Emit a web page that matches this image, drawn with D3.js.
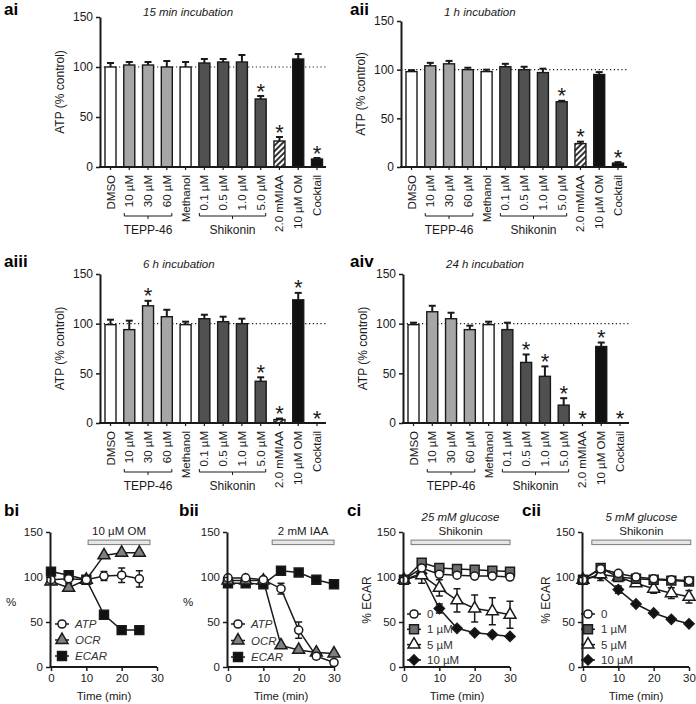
<!DOCTYPE html>
<html>
<head>
<meta charset="utf-8">
<script src="https://cdn.jsdelivr.net/npm/d3@7"></script>
<style>
  body { margin: 0; background: #fff; }
  svg { font-family: "Liberation Sans", Arial, Helvetica, sans-serif; }
</style>
</head>
<body>
<svg id="fig" width="696" height="704"></svg>
<script>
// ---- bar chart data (ATP, % control) ----
const categories = ['DMSO', '10 µM', '30 µM', '60 µM', 'Methanol', '0.1 µM', '0.5 µM', '1.0 µM', '5.0 µM', '2.0 mMIAA', '10 µM OM', 'Cocktail'];
const catGroup = ['vehicle', 'tepp', 'tepp', 'tepp', 'vehicle', 'shik', 'shik', 'shik', 'shik', 'iaa', 'om', 'om'];
const yTicks = [0, 50, 100, 150];

const atp15min = [100, 102, 102, 100, 100, 104, 105, 105, 68, 26, 108, 8];
const err15min = [4, 3, 3, 6, 5, 4, 3, 7, 3, 4, 5, 1];
const sig15min = [0, 0, 0, 0, 0, 0, 0, 0, 1, 1, 0, 1];

const atp1h = [98, 104, 106, 100, 98, 103, 100, 97, 67, 24, 95, 4];
const err1h = [1.5, 3, 3, 2, 2, 3, 3, 4, 1, 2, 2.5, 1];
const sig1h = [0, 0, 0, 0, 0, 0, 0, 0, 1, 1, 0, 1];

const atp6h = [99, 94, 118, 107, 99, 105, 102, 100, 42, 3.5, 124, 0];
const err6h = [5, 9, 5, 7, 3, 4, 5, 5, 4, 1, 7, 0];
const sig6h = [0, 0, 1, 0, 0, 0, 0, 0, 1, 1, 1, 1];

const atp24h = [99, 112, 105, 94, 99, 94, 61, 47, 18, 0, 77, 0];
const err24h = [2, 6, 6, 4, 3, 7, 8, 10, 7, 0, 4, 0];
const sig24h = [0, 0, 0, 0, 0, 0, 1, 1, 1, 1, 1, 1];

// ---- time course data ----
const timeB1 = [0, 5, 10, 15, 20, 25];
const b1ATP = [97, 98, 97, 101, 102, 98];
const b1ATPErr = [4, 5, 2, 5, 8, 9];
const b1OCR = [95, 88, 97, 124, 127, 127];
const b1OCRErr = [2, 3, 1, 2, 2, 2];
const b1ECAR = [106, 102, 97, 58, 41, 41];
const b1ECARErr = [1, 1, 1, 2, 2, 2];

const timeB2 = [0, 5, 10, 15, 20, 25, 30];
const b2ATP = [99, 99, 97, 87, 41, 12, 5];
const b2ATPErr = [2, 2, 2, 6, 9, 3, 2];
const b2OCR = [96, 96, 96, 24, 19, 16, 15];
const b2OCRErr = [1, 1, 1, 2, 2, 2, 2];
const b2ECAR = [93, 93, 92, 107, 105, 97, 92];
const b2ECARErr = [1, 1, 1, 1, 1, 1, 1];

const timeC = [0, 5, 10, 15, 20, 25, 30];
const c1Shik0 = [97, 110, 103, 102, 101, 101, 100];
const c1Shik0Err = [1, 2, 3, 2, 2, 2, 2];
const c1Shik1 = [97, 116, 110, 109, 108, 107, 106];
const c1Shik1Err = [1, 2, 2, 2, 2, 2, 2];
const c1Shik5 = [97, 102, 88, 74, 65, 62, 58];
const c1Shik5Err = [1, 9, 9, 13, 15, 15, 15];
const c1Shik10 = [97, 104, 65, 43, 38, 36, 34];
const c1Shik10Err = [1, 4, 5, 2, 2, 2, 2];

const c2Shik0 = [97, 109, 104, 100, 98, 97, 96];
const c2Shik0Err = [1, 2, 2, 2, 2, 2, 2];
const c2Shik1 = [97, 110, 100, 98, 97, 96, 95];
const c2Shik1Err = [1, 2, 2, 2, 2, 2, 2];
const c2Shik5 = [97, 103, 100, 93, 87, 82, 78];
const c2Shik5Err = [1, 7, 2, 3, 5, 6, 7];
const c2Shik10 = [97, 102, 86, 70, 60, 53, 48];
const c2Shik10Err = [1, 3, 4, 2, 2, 2, 2];

const xTicks = [0, 10, 20, 30];
// treatment bars [start, end] in minutes
const omSpan = [10.5, 28];
const iaaSpan = [12.5, 30];
const shik1Span = [2, 30];
const shik2Span = [2.5, 30.5];

// ---- drawing ----
const svg = d3.select('#fig');
const ink = '#1a1a1a';
const groupFill = { vehicle: '#ffffff', tepp: '#a6a6a6', shik: '#505050', iaa: 'url(#hatch)', om: '#111111' };

const hatch = svg.append('defs').append('pattern')
  .attr('id', 'hatch').attr('patternUnits', 'userSpaceOnUse')
  .attr('width', 4).attr('height', 4).attr('patternTransform', 'rotate(45)');
hatch.append('rect').attr('width', 4).attr('height', 4).attr('fill', '#fff');
hatch.append('rect').attr('width', 2).attr('height', 4).attr('fill', '#333');

function styleAxis(sel, fs) {
  sel.select('.domain').attr('stroke', ink).attr('stroke-width', 2);
  sel.selectAll('.tick line').attr('stroke', ink).attr('stroke-width', 1.5);
  sel.selectAll('.tick text').attr('fill', ink).attr('font-size', fs).attr('font-family', null);
}

function panelLabel(txt, x, y) {
  svg.append('text').attr('x', x).attr('y', y).attr('font-weight', 'bold')
    .attr('font-size', 17).attr('fill', '#000').text(txt);
}

function barPanel(p) {
  const g = svg.append('g');
  const y = d3.scaleLinear().domain([0, 150]).range([p.base, p.top]);
  const x = d3.scalePoint().domain(categories).range([p.ax + 10.5, p.ax + 217]);
  const bw = 11;
  const xEnd = p.ax + 226;

  // dotted 100% reference
  g.append('line').attr('x1', p.ax).attr('x2', xEnd + 2).attr('y1', y(100)).attr('y2', y(100))
    .attr('stroke', ink).attr('stroke-width', 1.2).attr('stroke-dasharray', '1.2,2.6');

  const rows = p.vals.map((v, i) => ({ c: categories[i], v, e: p.errs[i], s: p.sig[i], grp: catGroup[i] }));

  // error bars (upper only)
  const eb = g.selectAll('.eb').data(rows.filter(d => d.e > 0)).join('g');
  eb.append('line').attr('x1', d => x(d.c)).attr('x2', d => x(d.c))
    .attr('y1', d => y(d.v)).attr('y2', d => y(d.v + d.e)).attr('stroke', ink).attr('stroke-width', 2);
  eb.append('line').attr('x1', d => x(d.c) - 3.5).attr('x2', d => x(d.c) + 3.5)
    .attr('y1', d => y(d.v + d.e)).attr('y2', d => y(d.v + d.e)).attr('stroke', ink).attr('stroke-width', 2);

  g.selectAll('.bar').data(rows.filter(d => d.v > 0)).join('rect')
    .attr('x', d => x(d.c) - bw / 2).attr('y', d => y(d.v))
    .attr('width', bw).attr('height', d => y(0) - y(d.v))
    .attr('fill', d => groupFill[d.grp]).attr('stroke', ink).attr('stroke-width', 1.4);

  // significance stars
  g.selectAll('.star').data(rows.filter(d => d.s)).join('text')
    .attr('x', d => x(d.c)).attr('y', d => y(d.v + d.e) + 2.5)
    .attr('text-anchor', 'middle').attr('font-size', 22).attr('fill', ink).text('*');

  // axes
  const ya = g.append('g').attr('transform', `translate(${p.ax},0)`)
    .call(d3.axisLeft(y).tickValues(yTicks).tickSize(4).tickSizeOuter(0).tickPadding(3));
  styleAxis(ya, 12);

  g.append('line').attr('x1', p.ax - 1).attr('x2', xEnd).attr('y1', y(0)).attr('y2', y(0))
    .attr('stroke', ink).attr('stroke-width', 2);
  g.selectAll('.xt').data(categories).join('line')
    .attr('x1', d => x(d)).attr('x2', d => x(d)).attr('y1', y(0)).attr('y2', y(0) + 3)
    .attr('stroke', ink).attr('stroke-width', 1.2);
  g.selectAll('.xl').data(categories).join('text')
    .attr('transform', d => `translate(${x(d) + 4},${y(0) + 8}) rotate(-90)`)
    .attr('text-anchor', 'end').attr('font-size', 11.5).attr('fill', ink).text(d => d);

  // group brackets
  const groups = [['TEPP-46', 1, 3], ['Shikonin', 5, 8]];
  groups.forEach(([name, a, b]) => {
    const x1 = x(categories[a]) - 5, x2 = x(categories[b]) + 5, yb = y(0) + 49;
    g.append('path').attr('d', `M${x1},${yb - 3}V${yb}H${x2}V${yb - 3}M${(x1 + x2) / 2},${yb}v3`)
      .attr('fill', 'none').attr('stroke', ink).attr('stroke-width', 1);
    g.append('text').attr('x', (x1 + x2) / 2).attr('y', y(0) + 67).attr('text-anchor', 'middle')
      .attr('font-size', 12).attr('fill', ink).text(name);
  });

  g.append('text').attr('transform', `translate(${p.ax - 36},${(y(0) + y(150)) / 2}) rotate(-90)`)
    .attr('text-anchor', 'middle').attr('font-size', 12).attr('fill', ink).text('ATP (% control)');
  g.append('text').attr('x', p.ax + 43).attr('y', p.titleY).attr('font-size', 11.5)
    .attr('font-style', 'italic').attr('fill', ink).text(p.title);
}

barPanel({ ax: 100, base: 167, top: 17, vals: atp15min, errs: err15min, sig: sig15min, title: '15 min incubation', titleY: 16 });
barPanel({ ax: 401, base: 167, top: 21, vals: atp1h, errs: err1h, sig: sig1h, title: '1 h incubation', titleY: 16 });
barPanel({ ax: 100, base: 423, top: 274, vals: atp6h, errs: err6h, sig: sig6h, title: '6 h incubation', titleY: 268 });
barPanel({ ax: 403, base: 423, top: 274, vals: atp24h, errs: err24h, sig: sig24h, title: '24 h incubation', titleY: 268 });

panelLabel('ai', 4, 15);
panelLabel('aii', 350, 15);
panelLabel('aiii', 4, 267);
panelLabel('aiv', 350, 267);

// ---- line panels ----
function marker(sel, shape, fill) {
  const sizes = { circle: 52, square: 80, triangle: 62, diamond: 52 };
  const type = { circle: d3.symbolCircle, square: d3.symbolSquare, triangle: d3.symbolTriangle, diamond: d3.symbolSquare }[shape];
  sel.append('path').attr('d', d3.symbol().type(type).size(sizes[shape])())
    .attr('transform', shape === 'diamond' ? 'rotate(45)' : null)
    .attr('fill', fill).attr('stroke', ink).attr('stroke-width', 1.5);
}

function linePanel(p) {
  const g = svg.append('g');
  const x = d3.scaleLinear().domain([0, 30]).range([p.ax + 1, p.ax + 107]);
  const y = d3.scaleLinear().domain([0, 150]).range([667, 532]);

  // treatment bar
  g.append('rect').attr('x', x(p.span[0])).attr('y', y(141)).attr('width', x(p.span[1]) - x(p.span[0]))
    .attr('height', 4.5).attr('fill', '#e6e6e6').attr('stroke', '#7a7a7a').attr('stroke-width', 1);
  g.append('text').attr('x', (x(p.span[0]) + x(p.span[1])) / 2).attr('y', 535).attr('text-anchor', 'middle')
    .attr('font-size', 11.5).attr('fill', ink).text(p.spanLabel);
  if (p.title) {
    g.append('text').attr('x', (x(p.span[0]) + x(p.span[1])) / 2).attr('y', 521).attr('text-anchor', 'middle')
      .attr('font-size', 11.5).attr('font-style', 'italic').attr('fill', ink).text(p.title);
  }

  const line = d3.line().x(d => x(d[0])).y(d => y(d[1]));
  p.series.forEach(s => {
    const pts = p.time.map((t, i) => [t, s.vals[i], s.errs[i]]);
    g.append('path').attr('d', line(pts)).attr('fill', 'none').attr('stroke', ink).attr('stroke-width', 1.5);
  });
  p.series.forEach(s => {
    const pts = p.time.map((t, i) => [t, s.vals[i], s.errs[i]]);
    const eb = g.append('g');
    eb.selectAll('path').data(pts.filter(d => d[2] > 2)).join('path')
      .attr('d', d => `M${x(d[0])},${y(d[1] - d[2])}V${y(d[1] + d[2])}M${x(d[0]) - 3.5},${y(d[1] - d[2])}h7M${x(d[0]) - 3.5},${y(d[1] + d[2])}h7`)
      .attr('fill', 'none').attr('stroke', ink).attr('stroke-width', 1.5);
  });
  [...p.series].reverse().forEach(s => {
    const pts = p.time.map((t, i) => [t, s.vals[i]]);
    g.selectAll(null).data(pts).join('g')
      .attr('transform', d => `translate(${x(d[0])},${y(d[1])})`)
      .each(function () { marker(d3.select(this), s.shape, s.fill); });
  });

  // axes
  const ya = g.append('g').attr('transform', `translate(${p.ax},0)`)
    .call(d3.axisLeft(y).tickValues(yTicks).tickSize(4).tickSizeOuter(0).tickPadding(3));
  styleAxis(ya, 11.5);
  const xa = g.append('g').attr('transform', `translate(0,${y(0)})`)
    .call(d3.axisBottom(x).tickValues(xTicks).tickSize(4).tickSizeOuter(0).tickPadding(3));
  styleAxis(xa, 11.5);
  xa.select('.domain').attr('d', `M${p.ax},0H${x(30)}`);

  g.append('text').attr('x', (x(0) + x(30)) / 2).attr('y', 700).attr('text-anchor', 'middle')
    .attr('font-size', 11.5).attr('fill', ink).text('Time (min)');
  if (p.yLabel === '%') {
    g.append('text').attr('x', p.ax - 39).attr('y', 606).attr('text-anchor', 'middle')
      .attr('font-size', 11.5).attr('fill', ink).text('%');
  } else {
    g.append('text').attr('transform', `translate(${p.ax - 32},600) rotate(-90)`).attr('text-anchor', 'middle')
      .attr('font-size', 12).attr('fill', ink).text(p.yLabel);
  }

  // legend
  p.series.forEach((s, i) => {
    const ly = p.legY + i * p.legStep;
    const lg = g.append('g');
    lg.append('line').attr('x1', p.legX - 7).attr('x2', p.legX + 7).attr('y1', ly).attr('y2', ly)
      .attr('stroke', ink).attr('stroke-width', 1.5);
    marker(lg.append('g').attr('transform', `translate(${p.legX},${ly})`), s.shape, s.fill);
    lg.append('text').attr('x', p.legX + 13).attr('y', ly + 4).attr('font-size', 11.5)
      .attr('font-style', p.legItalic ? 'italic' : null).attr('fill', '#333').text(s.name);
  });
}

linePanel({
  ax: 50, time: timeB1, span: omSpan, spanLabel: '10 µM OM', yLabel: '%',
  legX: 62, legY: 624, legStep: 16, legItalic: true,
  series: [
    { name: 'ATP', vals: b1ATP, errs: b1ATPErr, shape: 'circle', fill: '#fff' },
    { name: 'OCR', vals: b1OCR, errs: b1OCRErr, shape: 'triangle', fill: '#808080' },
    { name: 'ECAR', vals: b1ECAR, errs: b1ECARErr, shape: 'square', fill: '#111' }
  ]
});
linePanel({
  ax: 227, time: timeB2, span: iaaSpan, spanLabel: '2 mM IAA', yLabel: '%',
  legX: 238, legY: 624, legStep: 16.5, legItalic: true,
  series: [
    { name: 'ATP', vals: b2ATP, errs: b2ATPErr, shape: 'circle', fill: '#fff' },
    { name: 'OCR', vals: b2OCR, errs: b2OCRErr, shape: 'triangle', fill: '#808080' },
    { name: 'ECAR', vals: b2ECAR, errs: b2ECARErr, shape: 'square', fill: '#111' }
  ]
});
linePanel({
  ax: 403, time: timeC, span: shik1Span, spanLabel: 'Shikonin', title: '25 mM glucose', yLabel: '% ECAR',
  legX: 414, legY: 614, legStep: 15.3, legItalic: false,
  series: [
    { name: '0', vals: c1Shik0, errs: c1Shik0Err, shape: 'circle', fill: '#fff' },
    { name: '1 µM', vals: c1Shik1, errs: c1Shik1Err, shape: 'square', fill: '#6e6e6e' },
    { name: '5 µM', vals: c1Shik5, errs: c1Shik5Err, shape: 'triangle', fill: '#fff' },
    { name: '10 µM', vals: c1Shik10, errs: c1Shik10Err, shape: 'diamond', fill: '#111' }
  ]
});
linePanel({
  ax: 582, time: timeC, span: shik2Span, spanLabel: 'Shikonin', title: '5 mM glucose', yLabel: '% ECAR',
  legX: 588, legY: 614, legStep: 15.3, legItalic: false,
  series: [
    { name: '0', vals: c2Shik0, errs: c2Shik0Err, shape: 'circle', fill: '#fff' },
    { name: '1 µM', vals: c2Shik1, errs: c2Shik1Err, shape: 'square', fill: '#555' },
    { name: '5 µM', vals: c2Shik5, errs: c2Shik5Err, shape: 'triangle', fill: '#fff' },
    { name: '10 µM', vals: c2Shik10, errs: c2Shik10Err, shape: 'diamond', fill: '#111' }
  ]
});

panelLabel('bi', 4, 516);
panelLabel('bii', 179, 516);
panelLabel('ci', 347, 516);
panelLabel('cii', 522, 516);
</script>
</body>
</html>
